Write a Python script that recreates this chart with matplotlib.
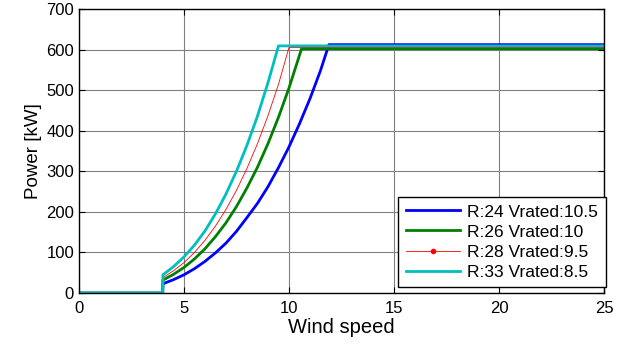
#!/usr/bin/env python3

import matplotlib
matplotlib.use('Agg')
import matplotlib.pyplot as plt
from matplotlib.lines import Line2D

plt.rcParams['font.family'] = ['Liberation Sans', 'DejaVu Sans']

# wind speed [m/s] and power [kW]
wind_r24 = [0, 3.99, 4, 4.5, 5, 5.5, 6, 6.5, 7, 7.5, 8, 8.5, 9, 9.5, 10, 10.5, 11, 11.5, 11.9, 25]
power_r24 = [0, 0, 23, 33, 45, 60, 78, 99, 123, 152, 186, 221, 262, 309, 360, 417, 479, 548, 612, 612]

wind_r26 = [0, 3.99, 4, 4.5, 5, 5.5, 6, 6.5, 7, 7.5, 8, 8.5, 9, 9.5, 10, 10.6, 25]
power_r26 = [0, 0, 32, 46, 63, 84, 109, 139, 173, 213, 259, 310, 368, 433, 505, 602, 602]

wind_r28 = [0, 3.99, 4, 4.5, 5, 5.5, 6, 6.5, 7, 7.5, 8, 8.5, 9, 9.5, 10, 25]
power_r28 = [0, 0, 38, 55, 75, 100, 130, 165, 206, 253, 307, 368, 437, 514, 605, 605]

wind_r33 = [0, 3.99, 4, 4.5, 5, 5.5, 6, 6.5, 7, 7.5, 8, 8.5, 9, 9.5, 25]
power_r33 = [0, 0, 45, 65, 89, 118, 153, 195, 244, 300, 364, 436, 518, 609, 609]

labels = ['R:24 Vrated:10.5', 'R:26 Vrated:10', 'R:28 Vrated:9.5', 'R:33 Vrated:8.5']


def main():
    figure = plt.figure(figsize=(6.26, 3.44), dpi=100)
    axis = figure.add_axes([0.126, 0.148, 0.839, 0.826])

    axis.plot(wind_r24, power_r24, color='#0000ff', lw=2, label=labels[0])
    axis.plot(wind_r26, power_r26, color='#008000', lw=2, label=labels[1])
    axis.plot(wind_r28, power_r28, color='#ff0000', lw=0.6, label=labels[2])
    axis.plot(wind_r33, power_r33, color='#00bfbf', lw=2, label=labels[3])

    axis.set_xlim(0, 25)
    axis.set_ylim(0, 700)
    axis.set_xticks([0, 5, 10, 15, 20, 25])
    axis.set_yticks(range(0, 701, 100))
    axis.tick_params(direction='in', top=True, right=True, labelsize=12, length=4)
    axis.tick_params(axis='x', pad=6)
    axis.grid(color='#808080', lw=0.8)
    for spine in axis.spines.values():
        spine.set_linewidth(1)

    axis.set_xlabel('Wind speed', fontsize=14.5, labelpad=1)
    axis.set_ylabel('Power [kW]', fontsize=13.5, labelpad=3)

    handles, _ = axis.get_legend_handles_labels()
    handles[2] = Line2D([0, 1, 2], [0, 0, 0], color='#ff0000', lw=0.6, marker='o',
                        markersize=3, markevery=[1], markerfacecolor='#ff0000')
    leg = axis.legend(handles, labels, loc='lower right', fontsize=12.5,
                      bbox_to_anchor=(1.003, 0.02),
                      fancybox=False, framealpha=1, edgecolor='black',
                      borderaxespad=0.0, handlelength=3.1, labelspacing=0.28,
                      borderpad=0.45, handletextpad=0.4)
    leg.get_frame().set_linewidth(1)

    figure.savefig('out.png')
    return 0


if __name__ == '__main__':
    main()
